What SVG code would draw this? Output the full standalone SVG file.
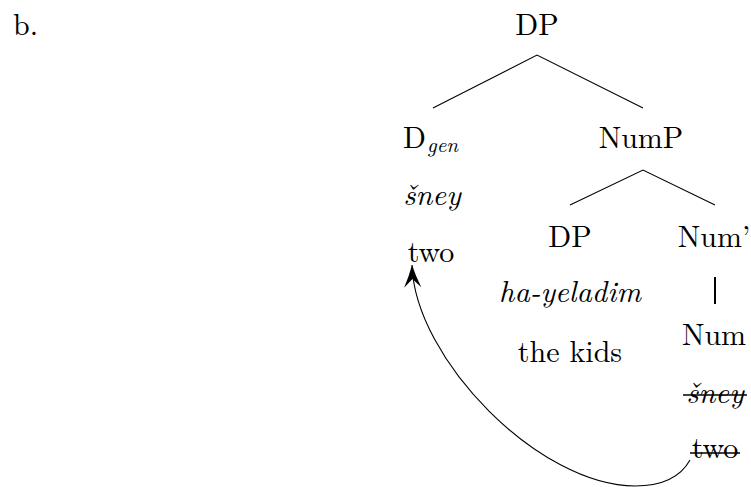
<svg xmlns="http://www.w3.org/2000/svg" width="751" height="487" viewBox="0 0 751 487">
<defs>
<style>
text{font-family:"Latin Modern Roman","CMU Serif","Liberation Serif","Tinos","Times New Roman","Nimbus Roman","TeX Gyre Termes","FreeSerif","Noto Serif","DejaVu Serif",Times,serif;font-size:30px;fill:#000}
.it{font-style:italic}
.c{text-anchor:middle}
.sub{font-size:21px;font-style:italic}
.edge{stroke:#000;stroke-width:1.1;fill:none}
.strike{stroke:#000;stroke-width:1.3}
</style>
<marker id="arr" markerUnits="userSpaceOnUse" markerWidth="30" markerHeight="30" viewBox="-24 -12 28 24" refX="0" refY="0" orient="auto">
<path d="M0,0 Q-10,-3 -21,-8 L-13,0 L-21,8 Q-10,3 0,0 Z" fill="#000"/>
</marker>
</defs>
<rect width="751" height="487" fill="#fff"/>
<text x="13" y="35">b.</text>
<g id="dp-root"><text class="c" x="537" y="35">DP</text></g>
<g id="d-gen">
<text x="403" y="148">D<tspan class="sub" x="427" y="152">gen</tspan></text>
<text class="it c" x="432" y="205">šney</text>
<text class="c" x="431" y="262">two</text>
</g>
<g id="nump"><text class="c" x="641" y="148">NumP</text></g>
<g id="dp-kids">
<text class="c" x="570" y="247">DP</text>
<text class="it c" x="570" y="302">ha-yeladim</text>
<text class="c" x="570" y="362">the kids</text>
</g>
<g id="num-bar"><text class="c" x="714" y="247">Num’</text></g>
<g id="num">
<text class="c" x="714" y="345">Num</text>
<text class="it c" x="715" y="403">šney</text>
<line class="strike" x1="683" y1="395" x2="747" y2="395"/>
<text class="c" x="715" y="458">two</text>
<line class="strike" x1="690" y1="453" x2="740" y2="453"/>
</g>
<g id="connectors">
<path class="edge" d="M433,108 L537,55 L643,108"/>
<path class="edge" d="M570,205 L643,170 L715,205"/>
<line class="edge" x1="715" y1="277" x2="715" y2="304" style="stroke-width:2"/>
<path class="edge" d="M690,460 C680,478 660,486 635,486 C540,486 415,360 412,265" marker-end="url(#arr)"/>
</g>
</svg>
